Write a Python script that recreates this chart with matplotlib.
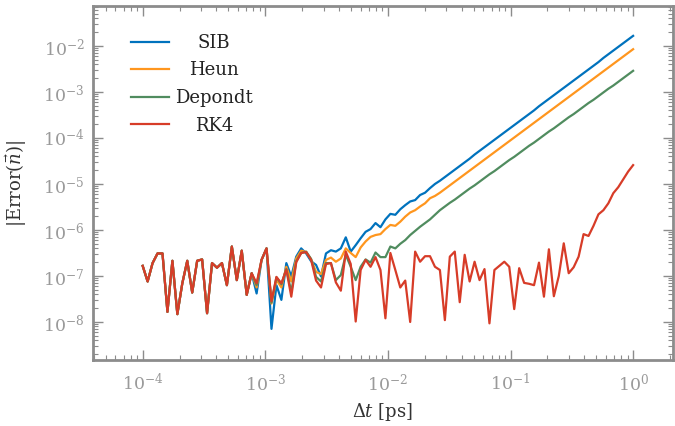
import numpy as np
import matplotlib
matplotlib.use("Agg")
import matplotlib.pyplot as plt
from matplotlib.ticker import LogLocator, NullFormatter

plt.rcParams['font.family'] = 'DejaVu Serif'
plt.rcParams['mathtext.fontset'] = 'dejavuserif'

# time steps (log spaced sampling grid, 1e-4 .. 1 ps)
dt = np.logspace(-4, 0, 100)

# log10 of the error
# first 23 steps: all four methods sit on the same noise floor
shared_log = [-6.78, -7.12, -6.72, -6.51, -6.51, -7.78, -6.67, -7.83, -7.16, -6.67,
              -7.36, -6.67, -6.64, -7.81, -6.72, -6.82, -6.72, -7.20, -6.36, -7.09,
              -6.45, -7.41, -6.94]

sib_log = shared_log + [
    -7.38, -6.65, -6.40, -8.15, -7.20, -7.52, -6.72, -7.01, -6.58, -6.40,
    -6.51, -6.68, -6.76, -7.01, -6.51, -6.44, -6.47, -6.40, -6.16, -6.47,
    -6.33, -6.18, -6.04, -5.98, -5.85, -5.94, -5.77, -5.65, -5.67, -5.55,
    -5.46, -5.38, -5.35, -5.24, -5.19, -5.09, -5.00, -4.93, -4.85, -4.77,
    -4.69, -4.61, -4.53, -4.45, -4.36, -4.28, -4.20, -4.12, -4.04, -3.96,
    -3.88, -3.80, -3.72, -3.64, -3.56, -3.48, -3.40, -3.31, -3.23, -3.15,
    -3.07, -2.99, -2.91, -2.83, -2.75, -2.67, -2.59, -2.51, -2.43, -2.35,
    -2.26, -2.18, -2.10, -2.02, -1.94, -1.86, -1.78]

heun_log = shared_log + [
    -7.25, -6.65, -6.40, -7.60, -7.08, -7.25, -6.80, -7.12, -6.62, -6.45,
    -6.48, -6.64, -6.91, -6.96, -6.65, -6.60, -6.69, -6.62, -6.40, -6.50,
    -6.59, -6.38, -6.25, -6.15, -6.11, -6.09, -5.98, -5.89, -5.91, -5.82,
    -5.71, -5.62, -5.57, -5.49, -5.42, -5.31, -5.26, -5.19, -5.11, -5.03,
    -4.95, -4.87, -4.79, -4.71, -4.63, -4.55, -4.47, -4.39, -4.31, -4.23,
    -4.15, -4.07, -3.99, -3.91, -3.83, -3.75, -3.67, -3.59, -3.51, -3.43,
    -3.35, -3.27, -3.19, -3.11, -3.03, -2.95, -2.87, -2.79, -2.71, -2.63,
    -2.55, -2.47, -2.39, -2.31, -2.23, -2.15, -2.07]

depondt_log = shared_log + [
    -7.20, -6.65, -6.40, -7.58, -7.03, -7.18, -6.85, -7.35, -6.68, -6.50,
    -6.47, -6.63, -7.02, -7.12, -6.72, -6.72, -7.09, -6.98, -6.54, -6.80,
    -7.09, -6.80, -6.64, -6.71, -6.49, -6.59, -6.59, -6.36, -6.40, -6.30,
    -6.22, -6.11, -6.02, -5.93, -5.85, -5.77, -5.67, -5.57, -5.49, -5.41,
    -5.34, -5.26, -5.18, -5.10, -5.03, -4.95, -4.87, -4.79, -4.72, -4.64,
    -4.56, -4.48, -4.41, -4.33, -4.25, -4.17, -4.10, -4.02, -3.94, -3.86,
    -3.79, -3.71, -3.63, -3.55, -3.48, -3.40, -3.32, -3.24, -3.17, -3.09,
    -3.01, -2.93, -2.86, -2.78, -2.70, -2.62, -2.54]

rk4_log = shared_log + [
    -7.16, -6.65, -6.40, -7.55, -7.02, -7.16, -6.86, -7.45, -6.70, -6.50,
    -6.48, -6.65, -7.10, -7.25, -6.74, -6.72, -7.14, -7.32, -6.47, -6.74,
    -7.99, -6.87, -6.65, -6.80, -6.59, -6.87, -7.92, -6.50, -6.87, -7.25,
    -7.10, -8.00, -6.47, -6.69, -6.57, -6.57, -6.80, -6.87, -7.96, -6.58,
    -6.47, -7.57, -6.54, -7.12, -6.69, -7.09, -6.85, -8.03, -6.87, -6.78,
    -6.69, -6.80, -7.72, -6.83, -7.15, -7.17, -7.20, -6.71, -7.45, -6.42,
    -7.44, -7.00, -6.29, -6.94, -6.81, -6.58, -6.09, -6.13, -5.91, -5.66,
    -5.57, -5.42, -5.20, -5.07, -4.90, -4.73, -4.59]

methods = ["SIB", "Heun", "Depondt", "RK4"]
series = [sib_log, heun_log, depondt_log, rk4_log]
colors = ["#0072BD", "#FF961E", "#508C5F", "#D73C28"]

grey = "#8c8c8c"

fig = plt.figure(figsize=(6.75, 4.26), dpi=100)
ax = fig.add_axes([0.1378, 0.155, 0.859, 0.831])

for name, vals, c in zip(methods, series, colors):
    ax.loglog(dt, 10 ** np.array(vals), color=c, lw=1.6, label=name)

ax.set_xlim(10 ** -4.405, 10 ** 0.324)
ax.set_ylim(10 ** -8.826, 10 ** -1.13)

for axis in (ax.xaxis, ax.yaxis):
    axis.set_major_locator(LogLocator(base=10, numticks=100))
    axis.set_minor_locator(LogLocator(base=10, subs=np.arange(2, 10), numticks=100))
    axis.set_minor_formatter(NullFormatter())

ax.tick_params(which='both', direction='in', top=True, right=True,
               color=grey, labelcolor='#9a9a9a', labelsize=12.5)
ax.tick_params(which='major', length=7, width=1)
ax.tick_params(which='minor', length=3.5, width=0.8)
ax.tick_params(axis='x', pad=9)
ax.tick_params(axis='y', pad=6)
for sp in ax.spines.values():
    sp.set_color(grey)
    sp.set_linewidth(2)

ax.set_xlabel(r'$\Delta t$ [ps]', fontsize=13, color='#333333', labelpad=5)
ax.set_ylabel(r'$|\mathrm{Error}(\vec{n})|$', fontsize=13, color='#333333', labelpad=10)

leg = ax.legend(loc='upper left', bbox_to_anchor=(0.0655, 0.921), frameon=False,
                fontsize=13, handlelength=2.1, handletextpad=0.35,
                labelspacing=0.53, borderaxespad=0, borderpad=0)

# centre the legend labels in their column
fig.canvas.draw()
r = fig.canvas.get_renderer()
texts = leg.get_texts()
widths = [t.get_window_extent(r).width for t in texts]
wmax = max(widths)
for t, w in zip(texts, widths):
    t.set_x((wmax - w) / 2)
    t.set_color('#222222')

fig.savefig("out.png", dpi=100)
